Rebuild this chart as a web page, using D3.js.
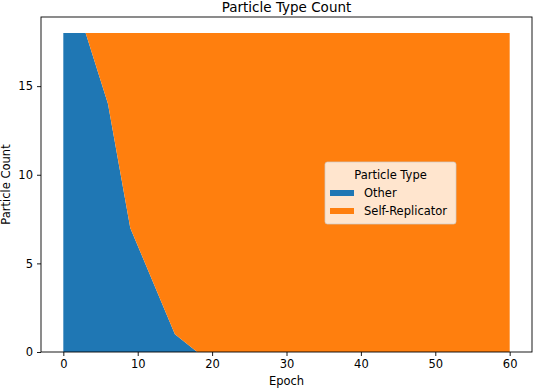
<!DOCTYPE html>
<html>
<head>
<meta charset="utf-8">
<script src="https://cdn.jsdelivr.net/npm/d3@7"></script>
<style>
    body { margin: 0; background: #fff; }
    text { font-family: 'DejaVu Sans', sans-serif; fill: #000; }
</style>
</head>
<body>
<svg id="chart" width="534" height="388"></svg>
<script>
// data
let epochs = [0, 3, 6, 9, 15, 18, 60]
let other = [18, 18, 14, 7, 1, 0, 0]
let selfReplicator = [0, 0, 4, 11, 17, 18, 18]
let seriesNames = ['Other', 'Self-Replicator']
let xTicks = [0, 10, 20, 30, 40, 50, 60]
let yTicks = [0, 5, 10, 15]

let colors = ['#1f77b4', '#ff7f0e']
let margin = {left: 41, top: 17, right: 532, bottom: 352}
let fontSize = 11.5

let svg = d3.select('#chart')

// scales (matplotlib-like 5% margins)
let xScale = d3.scaleLinear().domain([-3, 63]).range([margin.left, margin.right])
let yScale = d3.scaleLinear().domain([0, 18.9]).range([margin.bottom, margin.top])

// stack
let rows = epochs.map((e, i) => ({epoch: e, 'Other': other[i], 'Self-Replicator': selfReplicator[i]}))
let stack = d3.stack().keys(seriesNames)(rows)
let area = d3.area()
    .x(d => xScale(d.data.epoch))
    .y0(d => yScale(d[0]))
    .y1(d => yScale(d[1]))

svg.append('g').selectAll('path')
    .data(stack)
    .join('path')
    .attr('d', area)
    .attr('fill', (d, i) => colors[i])

// axes
let xAxis = svg.append('g')
    .attr('transform', 'translate(0,' + margin.bottom + ')')
    .call(d3.axisBottom(xScale).tickValues(xTicks).tickSize(4).tickPadding(4))
let yAxis = svg.append('g')
    .attr('transform', 'translate(' + margin.left + ',0)')
    .call(d3.axisLeft(yScale).tickValues(yTicks).tickSize(4).tickPadding(4))
for (let ax of [xAxis, yAxis]) {
    ax.select('.domain').remove()
    ax.selectAll('line').attr('stroke', '#000').attr('stroke-width', 0.9)
    ax.selectAll('text').attr('font-size', fontSize).attr('font-family', 'DejaVu Sans')
}

// frame
svg.append('rect')
    .attr('x', margin.left).attr('y', margin.top)
    .attr('width', margin.right - margin.left).attr('height', margin.bottom - margin.top)
    .attr('fill', 'none').attr('stroke', '#000').attr('stroke-width', 0.9)

// title and labels
svg.append('text').attr('x', (margin.left + margin.right) / 2).attr('y', 12)
    .attr('text-anchor', 'middle').attr('font-size', 13.5).text('Particle Type Count')
svg.append('text').attr('x', (margin.left + margin.right) / 2).attr('y', 384.5)
    .attr('text-anchor', 'middle').attr('font-size', fontSize).text('Epoch')
svg.append('text').attr('transform', 'translate(10,' + (margin.top + margin.bottom) / 2 + ') rotate(-90)')
    .attr('text-anchor', 'middle').attr('font-size', fontSize).text('Particle Count')

// legend
let legend = svg.append('g').attr('transform', 'translate(325,162)')
legend.append('rect')
    .attr('width', 131).attr('height', 62).attr('rx', 2.5)
    .attr('fill', '#fff').attr('fill-opacity', 0.8)
    .attr('stroke', '#ccc').attr('stroke-opacity', 0.8).attr('stroke-width', 0.9)
legend.append('text').attr('x', 65.5).attr('y', 17).attr('text-anchor', 'middle')
    .attr('font-size', fontSize).text('Particle Type')
seriesNames.forEach((name, i) => {
    let y = 31 + i * 18
    legend.append('rect').attr('x', 5).attr('y', y - 3).attr('width', 24).attr('height', 6)
        .attr('fill', colors[i])
    legend.append('text').attr('x', 39).attr('y', y + 4).attr('font-size', fontSize).text(name)
})
</script>
</body>
</html>
